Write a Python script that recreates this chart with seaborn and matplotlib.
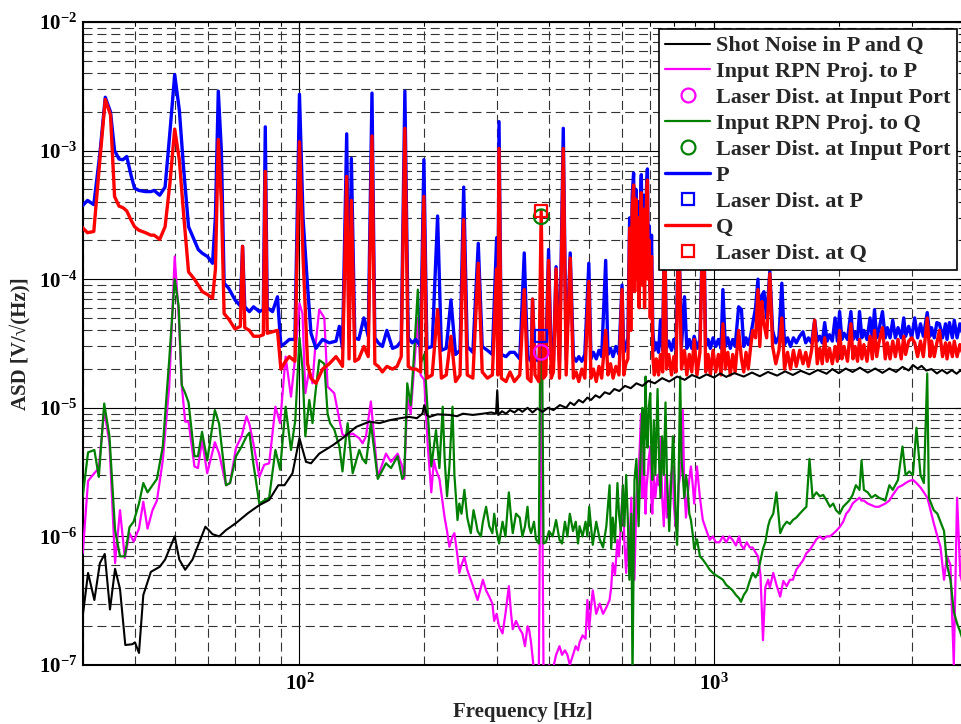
import numpy as np
import matplotlib
matplotlib.use("Agg")
import matplotlib.pyplot as plt
import seaborn as sns
from matplotlib.lines import Line2D
from matplotlib.ticker import LogLocator, FuncFormatter, NullFormatter

# ---------------- data ----------------
# Shot noise in P and Q
shot_freq = [30, 30.9, 32.0, 33.0, 33.9, 34.9, 35.9, 36.9, 38.0, 39.5,
             40.1, 41.0, 42.0, 43.8, 46.0, 47.4, 50.0, 51.3, 53.0, 55.2,
             59.3, 61.7, 64.0, 66.5, 70.3, 75.0, 80.0, 84.5, 88.9, 92.0,
             96.2, 100, 103.7, 106.6, 111.6, 120.2, 127, 137, 147.4, 156,
             164.7, 175, 184, 192, 198, 200, 203, 206, 215, 230,
             240, 248, 262, 277, 290, 298,
             300, 302, 308, 315, 322, 330, 338, 345, 355, 365,
             375, 386, 398, 410, 425, 440, 450, 460, 472, 483,
             495, 505, 518, 530, 545, 560, 575, 591, 610, 630,
             650, 672, 695, 720, 750, 780, 815, 850, 885, 923,
             960, 1000, 1035, 1070, 1120, 1180, 1235, 1290, 1350, 1420,
             1485, 1550, 1620, 1700, 1780, 1870, 1930, 2000, 2080, 2160,
             2250, 2350, 2450, 2550, 2650, 2750, 2850, 2950, 3020, 3100,
             3170, 3250, 3350, 3450, 3550, 3650, 3750, 3850, 3930, 4000]
shot_asd = [2.4e-7, 5.2e-7, 3.2e-7, 6.2e-7, 7.3e-7, 2.7e-7, 5.6e-7, 3.9e-7, 1.43e-7, 1.45e-7,
            1.5e-7, 1.24e-7, 3.5e-7, 5.3e-7, 5.8e-7, 6.6e-7, 1.0e-6, 6.6e-7, 5.5e-7, 6.6e-7,
            1.19e-6, 1.04e-6, 1.0e-6, 1.12e-6, 1.27e-6, 1.51e-6, 1.75e-6, 1.92e-6, 2.5e-6, 2.5e-6,
            3.1e-6, 5.8e-6, 3.8e-6, 3.7e-6, 4.4e-6, 5.1e-6, 5.8e-6, 7.1e-6, 7.8e-6, 7.6e-6,
            8.0e-6, 8.3e-6, 8.5e-6, 8.3e-6, 9.0e-6, 1.05e-5, 8.8e-6, 8.5e-6, 8.9e-6, 8.8e-6,
            8.6e-6, 9.0e-6, 8.8e-6, 9.0e-6, 9.2e-6, 9.0e-6,
            1.37e-5, 8.8e-6, 9.4e-6, 9.0e-6, 9.6e-6, 9.2e-6, 9.8e-6, 9.3e-6, 1.0e-5, 9.2e-6,
            9.9e-6, 9.3e-6, 1.0e-5, 9.6e-6, 1.05e-5, 1.0e-5, 1.1e-5, 1.05e-5, 1.15e-5, 1.1e-5,
            1.2e-5, 1.15e-5, 1.25e-5, 1.2e-5, 1.32e-5, 1.28e-5, 1.4e-5, 1.35e-5, 1.48e-5, 1.42e-5,
            1.55e-5, 1.48e-5, 1.62e-5, 1.55e-5, 1.7e-5, 1.6e-5, 1.75e-5, 1.65e-5, 1.8e-5, 1.7e-5,
            1.82e-5, 1.72e-5, 1.85e-5, 1.74e-5, 1.86e-5, 1.75e-5, 1.88e-5, 1.76e-5, 1.9e-5, 1.78e-5,
            1.92e-5, 1.8e-5, 1.94e-5, 1.82e-5, 1.97e-5, 1.84e-5, 2.0e-5, 1.86e-5, 2.02e-5, 1.9e-5,
            2.05e-5, 1.88e-5, 2.02e-5, 1.87e-5, 2.02e-5, 1.9e-5, 2.08e-5, 1.95e-5, 2.15e-5, 2.02e-5,
            2.12e-5, 1.95e-5, 2.0e-5, 1.85e-5, 1.97e-5, 1.85e-5, 1.96e-5, 1.84e-5, 1.95e-5, 1.88e-5]

# Input RPN projections (shared frequency grid)
rpn_freq = [30.0, 30.9, 32.0, 32.8, 33.8, 34.8, 35.9, 36.9, 37.9, 38.9,
            39.8, 41.0, 42.0, 43.0, 44.2, 45.3, 46.8, 48.5, 50.0, 51.1,
            52.0, 53.0, 54.0, 55.8, 56.9, 58.2, 59.9, 62.5, 64.0, 66.5,
            68.0, 70.3, 72.5, 74.5, 75.7, 77.4, 80.0, 82.2, 84.5, 87.5,
            89.8, 92.6, 95.4, 97.7, 100.0, 101.7, 103.3, 105.6, 107.5, 109.0,
            111.6, 114.8, 116.9, 118.5, 121.3, 124.8, 127.0, 129.5, 130.7, 134.4,
            139.4, 142.0, 144.7, 148.7, 154.5, 161.7, 166.3, 172.5, 177.0, 179.0,
            182.0, 185.5, 189.0, 193.0, 196.0, 200.0, 204.0, 208.0, 211.0, 213.5,
            217.6, 221.6, 224.0, 227.0, 230.0, 234.0, 236.5, 240.6, 243.0, 246.0,
            250.0, 254.0, 259.0, 263.0, 266.5, 269.0, 274.0, 277.0, 282.0, 287.0,
            292.0, 295.0, 299.0, 303.0, 309.0, 314.0, 320.0, 324.0, 327.0, 333.0,
            340.0, 345.0, 350.0, 355.0, 358.0, 362.0, 368.0, 372.0, 378.0, 383.0,
            388.0, 393.0, 400.0, 408.0, 416.0, 424.0, 430.0, 437.0, 443.0, 449.0,
            457.0, 464.0, 470.0, 474.0, 482.0, 490.0, 495.0, 500.0, 505.0, 510.0,
            520.0, 530.0, 540.0, 550.0, 560.0, 565.0, 570.0, 577.0, 585.0, 590.0,
            596.0, 603.0, 608.0, 614.0, 620.0, 625.0, 632.0, 636.0, 643.0, 650.0,
            658.0, 667.0, 672.0, 678.0, 684.0, 688.0, 692.0, 696.0, 702.0, 706.0,
            710.0, 716.0, 722.0, 731.0, 737.0, 743.0, 750.0, 757.0, 764.0, 770.0,
            780.0, 788.0, 796.0, 800.0, 808.0, 815.0, 822.0, 829.0, 835.0, 841.0,
            848.0, 856.0, 863.0, 872.0, 880.0, 890.0, 896.0, 910.0, 925.0, 940.0,
            960.0, 977.0, 994.0, 1010.0, 1031.0, 1051.0, 1070.0, 1090.0, 1109.0, 1130.0,
            1150.0, 1162.0, 1180.0, 1200.0, 1220.0, 1240.0, 1260.0, 1277.0, 1295.0, 1313.0,
            1330.0, 1351.0, 1364.0, 1390.0, 1415.0, 1445.0, 1470.0, 1498.0, 1525.0, 1550.0,
            1580.0, 1610.0, 1640.0, 1671.0, 1700.0, 1730.0, 1767.0, 1800.0, 1835.0, 1870.0,
            1905.0, 1940.0, 1970.0, 2010.0, 2050.0, 2085.0, 2120.0, 2160.0, 2200.0, 2245.0,
            2270.0, 2300.0, 2350.0, 2400.0, 2450.0, 2500.0, 2590.0, 2650.0, 2700.0, 2780.0,
            2850.0, 2900.0, 2960.0, 3020.0, 3080.0, 3150.0, 3210.0, 3270.0, 3300.0, 3390.0,
            3460.0, 3520.0, 3590.0, 3650.0, 3720.0, 3790.0, 3860.0, 3930.0, 4000.0]
rpn_p_asd = [7.4e-7, 2.7e-6, 3.1e-6, 3.4e-6, 9.6e-6, 5.3e-6, 6.2e-7, 1.6e-6, 6.8e-7, 1.06e-6,
             9.1e-7, 1.15e-6, 1.86e-6, 1.15e-6, 1.6e-6, 1.9e-6, 3.9e-6, 1.46e-5, 1.5e-4, 5.4e-5,
             1.5e-5, 7.8e-6, 7.8e-6, 3.5e-6, 3.4e-6, 5.6e-6, 3.1e-6, 5.4e-6, 4.4e-6, 2.5e-6,
             2.6e-6, 4.9e-6, 6.0e-6, 8.6e-6, 7.5e-6, 5.3e-6, 2.9e-6, 3.6e-6, 3.7e-6, 1.02e-5,
             7.6e-6, 2.5e-5, 1.22e-5, 2.5e-5, 6.5e-5, 5.4e-5, 1.3e-5, 2.0e-5, 1.55e-5, 2.8e-5,
             5.8e-5, 5.0e-5, 1.46e-5, 1.4e-5, 1.3e-5, 8.1e-6, 6.2e-6, 6.0e-6, 6.1e-6, 6.3e-6,
             5.8e-6, 5.3e-6, 6.0e-6, 1.12e-5, 2.9e-6, 4.4e-6, 3.8e-6, 4.4e-6, 3.5e-6, 2.8e-6,
             1.2e-5, 9.0e-6, 2.0e-5, 5.0e-5, 1.8e-5, 1.65e-5, 5.0e-6, 2.2e-6, 3.9e-6, 3.3e-6,
             2.8e-6, 1.8e-6, 1.4e-6, 1.1e-6, 8.3e-7, 1.0e-6, 1.06e-6, 7.0e-7, 5.2e-7, 6.0e-7,
             6.9e-7, 5.5e-7, 4.6e-7, 4.0e-7, 3.5e-7, 3.2e-7, 4.0e-7, 4.6e-7, 3.8e-7, 3.4e-7,
             3.0e-7, 2.2e-7, 2.5e-7, 2.0e-7, 1.76e-7, 2.5e-7, 4.1e-7, 2.5e-7, 1.9e-7, 2.2e-7,
             1.9e-7, 1.76e-7, 1.4e-7, 2.0e-7, 1.9e-7, 1.5e-7, 9.0e-8, 9.0e-8, 9.0e-8, 2.7e-5,
             9.0e-8, 9.0e-8, 1.0e-7, 9.0e-8, 1.2e-7, 1.4e-7, 1.2e-7, 1.3e-7, 1.2e-7, 1.0e-7,
             1.2e-7, 1.4e-7, 1.3e-7, 1.5e-7, 1.7e-7, 1.6e-7, 3.2e-7, 1.9e-7, 2.8e-7, 3.8e-7,
             2.5e-7, 3.0e-7, 2.5e-7, 2.8e-7, 3.2e-7, 4.0e-7, 6.2e-7, 5.0e-7, 9.4e-7, 7.0e-7,
             1.2e-6, 2.5e-6, 9.0e-7, 5.2e-7, 1.0e-6, 8.0e-7, 2.0e-6, 6.0e-7, 4.6e-7, 2.0e-6,
             3.0e-6, 9.0e-6, 2.0e-6, 4.0e-6, 1.5e-6, 2.5e-6, 3.0e-6, 4.0e-6, 5.0e-6, 2.0e-6,
             1.5e-6, 3.0e-6, 2.0e-6, 3.0e-6, 2.5e-6, 5.8e-6, 2.0e-6, 1.2e-6, 3.0e-6, 1.4e-6,
             2.0e-6, 3.0e-6, 3.5e-6, 1.8e-6, 1.2e-6, 1.1e-6, 2.5e-6, 3.0e-6, 4.0e-6, 9.6e-6,
             2.5e-6, 1.4e-6, 2.0e-6, 2.8e-6, 3.5e-6, 2.4e-6, 1.8e-6, 3.5e-6, 2.0e-6, 1.34e-6,
             1.1e-6, 9.4e-7, 1.0e-6, 9.0e-7, 9.0e-7, 1.0e-6, 9.0e-7, 1.0e-6, 9.4e-7, 8.5e-7,
             1.0e-6, 8.6e-7, 8.0e-7, 9.0e-7, 8.2e-7, 8.2e-7, 7.5e-7, 7.0e-7, 5.0e-7, 1.56e-7,
             4.0e-7, 4.6e-7, 4.0e-7, 5.2e-7, 4.2e-7, 3.4e-7, 4.5e-7, 4.1e-7, 4.6e-7, 4.6e-7,
             5.5e-7, 6.0e-7, 6.5e-7, 7.4e-7, 7.8e-7, 8.5e-7, 9.5e-7, 1.0e-6, 9.5e-7, 1.0e-6,
             1.0e-6, 1.05e-6, 1.1e-6, 1.18e-6, 1.3e-6, 1.5e-6, 1.6e-6, 1.8e-6, 1.9e-6, 2.0e-6,
             1.9e-6, 1.9e-6, 1.8e-6, 1.75e-6, 1.7e-6, 1.7e-6, 1.8e-6, 1.9e-6, 2.1e-6, 2.4e-6,
             2.5e-6, 2.6e-6, 2.7e-6, 2.75e-6, 2.6e-6, 2.4e-6, 2.2e-6, 2.0e-6, 1.8e-6, 1.27e-6,
             1.0e-6, 8.3e-7, 4.6e-7, 7.0e-7, 6.0e-7, 1.0e-7, 2.0e-6, 5.0e-7, 4.0e-7]
rpn_q_asd = [2.05e-6, 4.5e-6, 4.7e-6, 2.9e-6, 1.08e-5, 6.0e-6, 1.12e-6, 7.0e-7, 7.0e-7, 1.18e-6,
             1.3e-6, 1.8e-6, 2.6e-6, 2.2e-6, 2.5e-6, 2.8e-6, 5.0e-6, 2.35e-5, 1.0e-4, 6.2e-5,
             1.5e-5, 1.3e-5, 1.1e-5, 4.2e-6, 4.2e-6, 6.5e-6, 3.9e-6, 9.6e-6, 7.5e-6, 2.5e-6,
             2.6e-6, 4.2e-6, 5.0e-6, 6.0e-6, 6.4e-6, 3.7e-6, 1.8e-6, 1.9e-6, 2.0e-6, 4.7e-6,
             3.3e-6, 1.02e-5, 4.7e-6, 8.0e-6, 3.5e-5, 2.0e-5, 6.0e-6, 1.15e-5, 7.6e-6, 1.22e-5,
             2.35e-5, 2.2e-5, 9.0e-6, 7.6e-6, 6.8e-6, 5.0e-6, 3.2e-6, 6.0e-6, 7.6e-6, 3.1e-6,
             4.7e-6, 4.0e-6, 3.7e-6, 7.6e-6, 2.8e-6, 3.7e-6, 3.4e-6, 4.2e-6, 2.8e-6, 3.0e-6,
             1.55e-5, 1.05e-5, 2.6e-5, 8.3e-5, 2.2e-5, 2.6e-5, 9.0e-6, 3.5e-6, 5.0e-6, 6.7e-6,
             3.4e-6, 1.02e-5, 4.0e-6, 2.05e-6, 3.5e-6, 1.02e-5, 3.0e-6, 1.34e-6, 1.8e-6, 1.5e-6,
             2.3e-6, 1.4e-6, 1.06e-6, 1.6e-6, 1.3e-6, 1.1e-6, 1.0e-6, 1.3e-6, 1.7e-6, 1.2e-6,
             1.06e-6, 1.5e-6, 1.1e-6, 8.8e-7, 1.3e-6, 1.0e-6, 2.2e-6, 1.4e-6, 1.06e-6, 1.5e-6,
             1.4e-6, 1.0e-6, 1.2e-6, 1.7e-6, 1.2e-6, 1.06e-6, 1.3e-6, 9.5e-7, 8.8e-7, 3.06e-4,
             8.8e-7, 9.0e-7, 1.1e-6, 1.0e-6, 1.34e-6, 9.4e-7, 8.8e-7, 1.3e-6, 1.0e-6, 1.5e-6,
             1.1e-6, 1.3e-6, 8.8e-7, 1.2e-6, 1.0e-6, 1.3e-6, 1.0e-6, 1.7e-6, 1.2e-6, 8.6e-7,
             1.3e-6, 9.5e-7, 8.2e-7, 1.2e-6, 2.5e-6, 8.0e-7, 1.4e-6, 9.0e-7, 2.6e-6, 1.5e-6,
             1.1e-6, 2.5e-6, 1.2e-6, 3.0e-6, 1.3e-6, 4.6e-7, 1.5e-6, 8.0e-8, 2.75e-6, 4.0e-6,
             1.2e-6, 5.6e-6, 1.0e-5, 3.0e-6, 1.75e-5, 6.0e-6, 4.9e-6, 1.0e-5, 1.3e-5, 5.0e-6,
             2.75e-6, 8.0e-6, 3.0e-6, 1.4e-5, 4.0e-6, 2.0e-6, 6.0e-6, 3.0e-6, 1.1e-5, 3.0e-6,
             1.1e-6, 2.5e-6, 6.0e-6, 4.9e-6, 1.5e-6, 8.6e-7, 3.0e-6, 1.75e-5, 4.0e-6, 3.0e-6,
             2.0e-6, 3.0e-6, 2.5e-6, 1.5e-6, 1.34e-6, 1.0e-6, 8.0e-7, 9.5e-7, 7.0e-7, 6.6e-7,
             6.0e-7, 5.5e-7, 5.2e-7, 5.0e-7, 4.8e-7, 4.6e-7, 4.2e-7, 4.0e-7, 3.8e-7, 3.5e-7,
             3.3e-7, 3.1e-7, 3.5e-7, 3.8e-7, 4.5e-7, 5.2e-7, 4.8e-7, 5.2e-7, 6.5e-7, 8.0e-7,
             9.0e-7, 1.2e-6, 1.34e-6, 1.5e-6, 2.2e-6, 1.06e-6, 1.2e-6, 1.3e-6, 1.25e-6, 1.34e-6,
             1.4e-6, 1.5e-6, 1.6e-6, 1.7e-6, 4.0e-6, 2.0e-6, 2.2e-6, 2.05e-6, 2.1e-6, 1.9e-6,
             1.7e-6, 1.8e-6, 1.6e-6, 1.5e-6, 1.7e-6, 1.8e-6, 1.9e-6, 2.1e-6, 2.5e-6, 2.3e-6,
             3.9e-6, 2.3e-6, 2.2e-6, 2.0e-6, 2.1e-6, 2.0e-6, 1.9e-6, 2.5e-6, 2.3e-6, 2.75e-6,
             5.0e-6, 3.0e-6, 3.2e-6, 3.0e-6, 7.0e-6, 3.0e-6, 2.6e-6, 1.85e-5, 2.0e-6, 1.6e-6,
             1.5e-6, 1.3e-6, 1.1e-6, 6.0e-7, 4.6e-7, 2.6e-7, 2.1e-7, 1.8e-7, 1.5e-7]

# P and Q channel spectra (shared frequency grid)
pq_freq = [29.8, 30.8, 31.9, 33.0, 34.0, 35.0, 35.8, 36.7, 37.5, 38.3,
           39.2, 40.0, 41.0, 42.5, 43.8, 44.6, 46.0, 47.4, 48.7, 50.0,
           51.3, 52.5, 54.0, 55.8, 57.0, 58.3, 60.0, 61.7, 62.7, 63.7,
           64.8, 65.8, 67.5, 69.9, 72.0, 72.9, 73.8, 75.7, 77.5, 80.0,
           81.8, 82.7, 83.6, 86.1, 88.5, 90.2, 92.5, 94.5, 97.5, 100.0,
           102.0, 104.6, 106.6, 109.6, 113.7, 118.0, 122.5, 124.8, 127.0, 130.0,
           131.7, 133.4, 136.0, 139.0, 143.0, 146.5, 149.6, 152.0, 155.0, 158.5,
           162.5, 167.7, 172.0, 176.0, 179.6, 183.0, 187.0, 191.0, 196.0, 199.6,
           203.0, 209.0, 215.4, 220.0, 226.0, 232.0, 238.0, 244.0, 249.0, 254.0,
           262.0, 270.0, 276.0, 284.0, 292.0, 299.0, 301.0, 303.0, 307.0, 315.0,
           322.0, 330.0, 340.0, 348.6, 355.0, 362.0, 365.0, 370.0, 378.0, 383.0,
           388.0, 393.0, 399.0, 405.0, 410.0, 416.0, 424.0, 433.0, 440.0, 450.0,
           458.0, 465.0, 472.0, 480.0, 488.0, 499.0, 505.0, 512.0, 520.0, 528.0,
           536.0, 548.0, 555.0, 563.0, 571.0, 580.0, 590.0, 600.0, 606.0, 613.0,
           620.0, 626.0, 630.0, 635.0, 640.0, 644.0, 648.0, 652.0, 656.0, 660.0,
           664.0, 668.0, 672.0, 676.0, 680.0, 684.0, 688.0, 691.0, 694.0, 698.0,
           702.0, 707.0, 712.0, 718.0, 726.0, 735.0, 743.0, 752.0, 760.0, 768.0,
           778, 790, 800, 810, 822, 835, 849, 860, 872, 884,
           896, 910, 925, 943, 955, 968, 980, 995, 1010, 1025,
           1040, 1051, 1065, 1080, 1095, 1110, 1125, 1147, 1165, 1180,
           1195, 1210, 1225, 1240, 1260, 1277, 1290, 1305, 1320, 1340,
           1364, 1385, 1410, 1435, 1458, 1480, 1505, 1530, 1555, 1580,
           1610, 1640, 1665, 1690, 1720, 1750, 1775, 1800, 1825, 1850,
           1875, 1900, 1930, 1960, 1985, 2010, 2035, 2060, 2100, 2140,
           2165, 2190, 2220, 2245, 2275, 2300, 2340, 2380, 2410, 2440,
           2470, 2500, 2550, 2590, 2620, 2660, 2700, 2740, 2780, 2830,
           2870, 2900, 2950, 3000, 3050, 3100, 3150, 3200, 3270, 3320,
           3350, 3400, 3450, 3500, 3560, 3620, 3650, 3700, 3760, 3800,
           3860, 3920, 4000]
p_asd = [3.66e-4, 4.1e-4, 3.8e-4, 9.5e-4, 2.6e-3, 2.0e-3, 1.0e-3, 8.6e-4, 8.5e-4, 9.0e-4,
         6.5e-4, 5.1e-4, 4.9e-4, 4.8e-4, 4.8e-4, 4.9e-4, 4.5e-4, 5.2e-4, 1.4e-3, 3.9e-3,
         2.07e-3, 7.5e-4, 2.56e-4, 2.0e-4, 1.7e-4, 1.59e-4, 1.5e-4, 1.33e-4, 3.1e-4, 2.9e-3,
         1.0e-3, 9.3e-5, 8.5e-5, 6.9e-5, 6.2e-5, 1.8e-4, 6.1e-5, 5.6e-5, 6.1e-5, 5.6e-5,
         5.8e-5, 1.53e-3, 6.0e-5, 5.6e-5, 7.3e-5, 3.0e-5, 3.2e-5, 3.4e-5, 3.4e-5, 2.74e-3,
         3.0e-4, 8.8e-5, 3.8e-5, 2.9e-5, 3.4e-5, 3.2e-5, 3.3e-5, 4.3e-5, 2.9e-5, 1.35e-3,
         3.5e-5, 8.7e-4, 3.5e-5, 3.4e-5, 5.0e-5, 3.6e-5, 2.8e-3, 3.5e-5, 3.2e-5, 3.0e-5,
         4.0e-5, 2.9e-5, 3.0e-5, 3.3e-5, 2.9e-3, 3.5e-5, 3.2e-5, 3.4e-5, 3.0e-5, 8.5e-4,
         2.9e-5, 3.0e-5, 3.1e-4, 2.8e-5, 2.9e-5, 6.9e-5, 2.6e-5, 2.8e-5, 5.2e-4, 3.0e-5,
         2.7e-5, 1.9e-4, 3.0e-5, 2.8e-5, 2.6e-5, 2.1e-4, 3.0e-5, 1.68e-3, 2.6e-5, 2.5e-5,
         2.7e-5, 2.7e-5, 2.4e-5, 1.6e-4, 2.5e-5, 2.3e-5, 7.0e-5, 2.4e-5, 2.3e-5, 3.6e-5,
         2.2e-5, 2.4e-5, 1.7e-4, 2.4e-5, 2.3e-5, 1.25e-4, 2.3e-5, 1.49e-3, 2.4e-5, 1.6e-4,
         2.5e-5, 2.3e-5, 2.5e-5, 2.3e-5, 2.6e-5, 1.33e-4, 2.4e-5, 2.7e-5, 2.4e-5, 2.8e-5,
         2.5e-5, 1.4e-4, 2.6e-5, 2.9e-5, 2.5e-5, 3.0e-5, 2.6e-5, 9.0e-5, 2.7e-5, 3.0e-5,
         3.5e-5, 3.0e-4, 6.0e-5, 4.5e-4, 6.7e-4, 1.2e-4, 5.0e-4, 1.5e-4, 4.0e-4, 1.2e-4,
         3.5e-4, 6.5e-4, 1.5e-4, 4.5e-4, 1.0e-4, 3.0e-4, 5.5e-4, 7.2e-4, 1.5e-4, 2.6e-4,
         8.0e-5, 2.2e-4, 4.0e-5, 2.8e-5, 3.2e-5, 2.7e-5, 4.8e-5, 2.8e-5, 3.3e-4, 2.9e-5,
         3.3e-5, 2.8e-5, 3.4e-5, 2.8e-5, 2.7e-4, 3.0e-5, 7.3e-5, 2.9e-5, 3.4e-5, 2.9e-5,
         3.6e-5, 2.9e-5, 3.4e-5, 4.3e-4, 3.0e-5, 3.4e-5, 2.9e-5, 3.5e-5, 3.0e-5, 3.4e-5,
         2.9e-5, 8.3e-5, 3.0e-5, 3.5e-5, 2.9e-5, 3.4e-5, 3.0e-5, 6.1e-5, 5.8e-5, 3.0e-5,
         3.5e-5, 3.1e-5, 3.6e-5, 4.5e-5, 6.0e-5, 1.0e-4, 4.0e-5, 7.5e-5, 8.0e-5, 5.0e-5,
         1.15e-4, 4.0e-5, 3.2e-5, 3.6e-5, 9.3e-5, 3.1e-5, 3.5e-5, 3.0e-5, 3.5e-5, 3.2e-5,
         3.6e-5, 3.9e-5, 3.2e-5, 3.5e-5, 3.2e-5, 4.8e-5, 3.3e-5, 3.6e-5, 3.2e-5, 4.6e-5,
         3.3e-5, 3.7e-5, 3.3e-5, 5.0e-5, 3.3e-5, 5.6e-5, 3.4e-5, 3.8e-5, 3.4e-5, 5.6e-5,
         3.4e-5, 3.9e-5, 3.4e-5, 5.6e-5, 3.5e-5, 4.0e-5, 3.4e-5, 5.0e-5, 3.5e-5, 5.8e-5,
         3.5e-5, 4.0e-5, 5.6e-5, 3.5e-5, 4.2e-5, 3.5e-5, 4.8e-5, 3.5e-5, 4.2e-5, 3.5e-5,
         5.0e-5, 3.6e-5, 4.3e-5, 3.5e-5, 5.0e-5, 3.5e-5, 4.5e-5, 3.6e-5, 5.5e-5, 3.6e-5,
         4.2e-5, 3.5e-5, 4.6e-5, 4.5e-5, 3.5e-5, 4.5e-5, 3.4e-5, 4.6e-5, 3.5e-5, 4.8e-5,
         3.5e-5, 4.5e-5, 3.5e-5]
q_asd = [2.56e-4, 2.3e-4, 2.35e-4, 8.5e-4, 2.5e-3, 1.9e-3, 4.4e-4, 3.7e-4, 3.6e-4, 3.4e-4,
         2.9e-4, 2.56e-4, 2.4e-4, 2.3e-4, 2.2e-4, 2.2e-4, 2.04e-4, 2.56e-4, 5.6e-4, 1.47e-3,
         8.5e-4, 3.3e-4, 1.14e-4, 1.0e-4, 9.0e-5, 8.0e-5, 7.6e-5, 7.1e-5, 1.2e-4, 1.22e-3,
         4.0e-4, 5.4e-5, 4.9e-5, 4.1e-5, 4.3e-5, 1.8e-4, 4.2e-5, 4.0e-5, 3.6e-5, 3.6e-5,
         3.7e-5, 6.9e-4, 3.8e-5, 3.9e-5, 4.0e-5, 2.0e-5, 2.3e-5, 2.5e-5, 2.3e-5, 1.17e-3,
         1.5e-4, 2.2e-5, 1.7e-5, 1.55e-5, 2.0e-5, 2.2e-5, 2.5e-5, 2.3e-5, 2.1e-5, 6.3e-4,
         2.4e-5, 4.1e-4, 2.3e-5, 2.4e-5, 3.0e-5, 2.5e-5, 1.3e-3, 2.2e-5, 2.1e-5, 1.9e-5,
         2.1e-5, 2.0e-5, 2.1e-5, 2.5e-5, 1.49e-3, 2.1e-5, 2.0e-5, 2.0e-5, 1.9e-5, 4.4e-4,
         1.7e-5, 1.8e-5, 5.8e-5, 1.7e-5, 1.8e-5, 3.6e-5, 1.6e-5, 1.8e-5, 2.9e-4, 1.8e-5,
         1.7e-5, 1.33e-4, 1.9e-5, 1.7e-5, 1.8e-5, 1.2e-4, 1.8e-5, 1.04e-3, 1.7e-5, 1.6e-5,
         1.9e-5, 1.6e-5, 1.8e-5, 8.3e-5, 1.7e-5, 1.6e-5, 7.0e-5, 1.8e-5, 1.6e-5, 3.4e-4,
         1.7e-5, 1.8e-5, 1.4e-4, 1.7e-5, 1.9e-5, 1.2e-4, 1.7e-5, 1.04e-3, 1.8e-5, 1.46e-4,
         1.7e-5, 1.9e-5, 1.6e-5, 2.0e-5, 1.7e-5, 9.6e-5, 1.7e-5, 2.0e-5, 1.6e-5, 2.1e-5,
         1.7e-5, 4.0e-5, 1.8e-5, 2.2e-5, 1.7e-5, 2.1e-5, 1.8e-5, 8.3e-5, 1.8e-5, 2.2e-5,
         2.4e-5, 2.5e-4, 4.0e-5, 3.5e-4, 5.4e-4, 8.0e-5, 4.2e-4, 1.0e-4, 3.0e-4, 6.0e-5,
         2.5e-4, 4.7e-4, 9.0e-5, 3.5e-4, 6.0e-5, 2.5e-4, 4.5e-4, 5.9e-4, 1.0e-4, 2.0e-4,
         5.0e-5, 1.5e-4, 2.5e-5, 1.8e-5, 2.4e-5, 1.8e-5, 2.6e-5, 1.9e-5, 3.0e-4, 2.0e-5,
         2.6e-5, 1.8e-5, 2.5e-5, 1.9e-5, 2.5e-4, 2.0e-5, 2.8e-5, 1.8e-5, 2.6e-5, 1.9e-5,
         3.4e-5, 1.8e-5, 2.7e-5, 4.0e-4, 1.9e-5, 2.6e-5, 1.8e-5, 2.8e-5, 1.9e-5, 2.6e-5,
         1.8e-5, 4.5e-5, 2.0e-5, 2.7e-5, 1.8e-5, 2.6e-5, 1.9e-5, 4.0e-5, 2.4e-5, 1.9e-5,
         2.7e-5, 2.0e-5, 2.9e-5, 4.0e-5, 3.5e-5, 8.3e-5, 3.0e-5, 6.7e-5, 4.5e-5, 3.5e-5,
         1.1e-4, 3.0e-5, 2.2e-5, 2.8e-5, 5.0e-5, 2.0e-5, 2.7e-5, 2.0e-5, 2.8e-5, 2.1e-5,
         2.8e-5, 2.2e-5, 2.7e-5, 2.1e-5, 2.8e-5, 4.8e-5, 2.2e-5, 2.9e-5, 2.2e-5, 3.5e-5,
         2.3e-5, 2.9e-5, 2.2e-5, 3.0e-5, 2.3e-5, 4.0e-5, 2.4e-5, 3.0e-5, 2.3e-5, 4.5e-5,
         2.4e-5, 3.0e-5, 2.3e-5, 3.4e-5, 2.4e-5, 3.1e-5, 2.3e-5, 3.6e-5, 2.4e-5, 4.0e-5,
         2.5e-5, 3.2e-5, 4.2e-5, 2.4e-5, 3.2e-5, 2.4e-5, 3.3e-5, 2.5e-5, 3.4e-5, 2.4e-5,
         3.6e-5, 2.6e-5, 3.3e-5, 3.5e-5, 3.2e-5, 2.5e-5, 3.3e-5, 2.5e-5, 5.0e-5, 2.5e-5,
         3.3e-5, 2.5e-5, 3.2e-5, 4.0e-5, 2.5e-5, 3.2e-5, 2.4e-5, 3.2e-5, 2.5e-5, 3.3e-5,
         2.5e-5, 3.1e-5, 2.5e-5]

# Laser disturbance markers
dist_freq = [383.0]
dist_input_p = [2.7e-5]
dist_input_q = [3.06e-4]
dist_p = [3.6e-5]
dist_q = [3.4e-4]

legend_labels = ["Shot Noise in P and Q", "Input RPN Proj. to P", "Laser Dist. at Input Port",
                 "Input RPN Proj. to Q", "Laser Dist. at Input Port", "P",
                 "Laser Dist. at P", "Q", "Laser Dist. at Q"]

# ---------------- styling ----------------
sns.set_theme(style="white")
SERIF = ["Liberation Serif", "DejaVu Serif"]
plt.rcParams["font.family"] = SERIF
plt.rcParams["font.weight"] = "bold"
plt.rcParams["mathtext.fontset"] = "custom"
plt.rcParams["mathtext.rm"] = "Liberation Serif:bold"
plt.rcParams["mathtext.bf"] = "Liberation Serif:bold"
plt.rcParams["mathtext.it"] = "Liberation Serif:bold:italic"
plt.rcParams["lines.scale_dashes"] = False

C_MAG = "#FF00FF"
C_GRN = "#008000"
C_BLU = "#0000FF"
C_RED = "#FF0000"

fig = plt.figure(figsize=(9.61, 7.24), dpi=100)
ax = fig.add_axes([0.0861, 0.0815, 0.9165, 0.8881])
ax.set_xscale("log")
ax.set_yscale("log")

kw = dict(ax=ax, estimator=None, sort=False, legend=False)
sns.lineplot(x=rpn_freq, y=rpn_p_asd, color=C_MAG, linewidth=1.6, zorder=3, **kw)
sns.lineplot(x=rpn_freq, y=rpn_q_asd, color=C_GRN, linewidth=1.6, zorder=4, **kw)
sns.lineplot(x=pq_freq, y=p_asd, color=C_BLU, linewidth=2.4, zorder=5, **kw)
sns.lineplot(x=pq_freq, y=q_asd, color=C_RED, linewidth=2.4, zorder=6, **kw)
sns.lineplot(x=shot_freq, y=shot_asd, color="black", linewidth=1.5, zorder=7, **kw)

mk = dict(ax=ax, legend=False, facecolor="none", linewidth=1.6, zorder=8)
sns.scatterplot(x=dist_freq, y=dist_input_p, marker="o", s=110, edgecolor=C_MAG, **mk)
sns.scatterplot(x=dist_freq, y=dist_input_q, marker="o", s=110, edgecolor=C_GRN, **mk)
sns.scatterplot(x=dist_freq, y=dist_p, marker="s", s=80, edgecolor=C_BLU, **mk)
sns.scatterplot(x=dist_freq, y=dist_q, marker="s", s=80, edgecolor=C_RED, **mk)

ax.set_xlim(30, 4000)
ax.set_ylim(1e-7, 1e-2)

ax.xaxis.set_major_locator(LogLocator(base=10))
ax.yaxis.set_major_locator(LogLocator(base=10))
ax.xaxis.set_minor_locator(LogLocator(base=10, subs=np.arange(2, 10)))
ax.yaxis.set_minor_locator(LogLocator(base=10, subs=np.arange(2, 10)))
fmt = FuncFormatter(lambda v, p: r"$10^{%d}$" % int(round(np.log10(v))))
ax.xaxis.set_major_formatter(fmt)
ax.yaxis.set_major_formatter(fmt)
ax.xaxis.set_minor_formatter(NullFormatter())
ax.yaxis.set_minor_formatter(NullFormatter())

ax.set_axisbelow(True)
ax.grid(True, which="major", color="black", linewidth=0.8, linestyle="-")
ax.grid(True, which="minor", color="#333333", linewidth=0.8, linestyle=(0, (6.5, 3.5)))

ax.tick_params(which="both", direction="in", top=True, right=True, colors="black")
ax.tick_params(which="major", length=6, width=0.8, labelsize=15)
ax.tick_params(which="minor", length=3, width=0.6)
ax.tick_params(axis="y", pad=4)
ax.tick_params(axis="x", pad=6)
for s in ax.spines.values():
    s.set_color("black")
    s.set_linewidth(1.5)

ax.set_xlabel("Frequency [Hz]", fontsize=15, fontweight="bold", family=SERIF)
ax.set_ylabel("ASD [V/\u221A(Hz)]", fontsize=15, fontweight="bold", family=SERIF)
ax.xaxis.set_label_coords(0.4993, -0.058)
ax.yaxis.set_label_coords(-0.0598, 0.5)

handles = [
    Line2D([], [], color="black", lw=1.5),
    Line2D([], [], color=C_MAG, lw=1.6),
    Line2D([], [], ls="none", marker="o", ms=10, mfc="none", mec=C_MAG, mew=1.6),
    Line2D([], [], color=C_GRN, lw=1.6),
    Line2D([], [], ls="none", marker="o", ms=10, mfc="none", mec=C_GRN, mew=1.6),
    Line2D([], [], color=C_BLU, lw=2.4),
    Line2D([], [], ls="none", marker="s", ms=8.5, mfc="none", mec=C_BLU, mew=1.6),
    Line2D([], [], color=C_RED, lw=2.4),
    Line2D([], [], ls="none", marker="s", ms=8.5, mfc="none", mec=C_RED, mew=1.6),
]
leg = ax.legend(handles, legend_labels, loc="upper right", bbox_to_anchor=(0.9926, 0.989),
                borderaxespad=0, frameon=True, fancybox=False, framealpha=1,
                edgecolor="black", prop=dict(family=SERIF, weight="bold", size=16),
                labelspacing=0.24, handlelength=2.0, handletextpad=0.27, borderpad=0.3)
leg.get_frame().set_linewidth(1.2)
leg.set_zorder(20)

fig.savefig("out.png", dpi=100)
